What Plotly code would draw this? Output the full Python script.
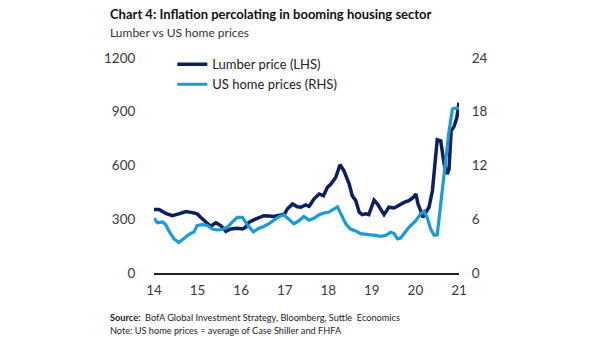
import plotly.graph_objects as go

# Lumber price (USD, left axis) - sampled points, x in decimal years (14 = 2014)
lumber_x = [14.00, 14.115, 14.27, 14.42, 14.57, 14.73, 14.88, 14.99, 15.07, 15.19,
            15.30, 15.42, 15.53, 15.65, 15.76, 15.91, 16.03, 16.10, 16.18, 16.30,
            16.41, 16.52, 16.64, 16.75, 16.91, 17.00, 17.06, 17.18, 17.29, 17.37,
            17.48, 17.56, 17.67, 17.79, 17.89, 17.98, 18.06, 18.17, 18.27, 18.36,
            18.48, 18.55, 18.63, 18.71, 18.78, 18.86, 18.93, 18.99, 19.05, 19.13,
            19.20, 19.28, 19.34, 19.39, 19.51, 19.62, 19.74, 19.85, 19.95, 20.01,
            20.06, 20.12, 20.17, 20.24, 20.31, 20.39, 20.44, 20.50, 20.58, 20.66,
            20.73, 20.77, 20.82, 20.89, 20.95, 21.00]
lumber_y = [354, 354, 333, 320, 330, 343, 337, 330, 311, 283,
            261, 280, 265, 233, 246, 250, 246, 255, 283, 298,
            311, 320, 318, 316, 324, 330, 357, 385, 370, 367,
            380, 372, 413, 441, 431, 478, 496, 533, 604, 570,
            496, 431, 404, 339, 326, 330, 326, 367, 407, 385,
            357, 326, 348, 367, 363, 380, 394, 404, 422, 441,
            385, 348, 311, 339, 367, 459, 570, 743, 737, 607,
            552, 580, 793, 820, 867, 950]

# US home prices, % yoy (right axis)
home_x = [14.00, 14.08, 14.19, 14.27, 14.34, 14.46, 14.57, 14.69, 14.80, 14.92,
          14.99, 15.11, 15.22, 15.34, 15.45, 15.57, 15.68, 15.80, 15.91, 16.03,
          16.14, 16.28, 16.41, 16.52, 16.64, 16.75, 16.87, 16.98, 17.10, 17.21,
          17.33, 17.44, 17.56, 17.67, 17.79, 17.90, 18.02, 18.13, 18.21, 18.29,
          18.40, 18.51, 18.63, 18.74, 18.86, 18.97, 19.09, 19.20, 19.32, 19.43,
          19.51, 19.59, 19.66, 19.74, 19.85, 20.01, 20.12, 20.20, 20.27, 20.35,
          20.43, 20.50, 20.58, 20.66, 20.77, 20.85, 20.92, 21.00]
home_y = [6.1, 5.6, 5.7, 5.4, 4.7, 3.8, 3.4, 3.9, 4.3, 4.6,
          5.3, 5.4, 5.3, 4.9, 4.8, 4.85, 5.1, 5.7, 6.2, 6.2,
          5.4, 4.6, 5.0, 5.2, 5.5, 5.9, 6.3, 6.5, 6.0, 5.5,
          5.85, 6.3, 5.9, 6.1, 6.5, 6.7, 6.8, 7.1, 7.4, 6.6,
          5.5, 4.9, 4.7, 4.4, 4.3, 4.25, 4.2, 4.1, 4.2, 4.55,
          4.4, 3.8, 3.9, 4.4, 5.1, 5.85, 6.6, 6.9, 6.2, 4.9,
          4.2, 4.25, 7.7, 11.0, 15.8, 18.3, 18.4, 18.4]

year_ticks = [14, 15, 16, 17, 18, 19, 20, 21]
year_labels = ["14", "15", "16", "17", "18", "19", "20", "21"]
lhs_ticks = [0, 300, 600, 900, 1200]
rhs_ticks = [0, 6, 12, 18, 24]

NAVY = "#0c1f63"
LIGHT = "#1a9bd9"
FONT = "Lato, sans-serif"
TICK = dict(family=FONT, size=13.5, color="#3a3a3a")

fig = go.Figure()
fig.add_trace(go.Scatter(x=lumber_x, y=lumber_y, mode="lines", name="Lumber price (LHS)",
                         line=dict(color=NAVY, width=3.5)))
fig.add_trace(go.Scatter(x=home_x, y=home_y, mode="lines", name="US home prices (RHS)",
                         yaxis="y2", line=dict(color=LIGHT, width=3.2)))

fig.update_layout(
    width=605, height=341,
    margin=dict(l=154, r=146, t=58, b=68),
    paper_bgcolor="white", plot_bgcolor="white",
    font=dict(family=FONT, size=14, color="#3a3a3a"),
    showlegend=True,
    legend=dict(x=0.06, y=1.04, xanchor="left", yanchor="top",
                bgcolor="rgba(0,0,0,0)", itemwidth=30, tracegroupgap=0,
                font=dict(family=FONT, size=13, color="#222222")),
    xaxis=dict(range=[14, 21], tickvals=year_ticks, ticktext=year_labels,
               showgrid=False, zeroline=False, showline=True, linecolor="#222222",
               linewidth=2, ticks="outside", ticklen=4, tickcolor="rgba(0,0,0,0)",
               tickfont=TICK),
    yaxis=dict(range=[0, 1200], tickvals=lhs_ticks, showgrid=False, zeroline=False,
               showline=False, ticks="outside", ticklen=15, tickcolor="rgba(0,0,0,0)",
               tickfont=TICK),
    yaxis2=dict(range=[0, 24], tickvals=rhs_ticks, overlaying="y", side="right",
                showgrid=False, zeroline=False, showline=False, ticks="outside",
                ticklen=9, tickcolor="rgba(0,0,0,0)", tickfont=TICK),
)

fig.add_annotation(xref="paper", yref="paper", x=-0.151, y=1.0, xanchor="left", yanchor="middle",
                   yshift=44, showarrow=False,
                   text="<b>Chart 4: Inflation percolating in booming housing sector</b>",
                   font=dict(family=FONT, size=13, color="#111111"))
fig.add_annotation(xref="paper", yref="paper", x=-0.151, y=1.0, xanchor="left", yanchor="middle",
                   yshift=26, showarrow=False, text="Lumber vs US home prices",
                   font=dict(family=FONT, size=12, color="#333333"))
fig.add_annotation(xref="paper", yref="paper", x=-0.151, y=0, xanchor="left", yanchor="middle",
                   yshift=-44, showarrow=False,
                   text="<b>Source:</b>  BofA Global Investment Strategy, Bloomberg, Suttle  Economics",
                   font=dict(family=FONT, size=9.2, color="#222222"))
fig.add_annotation(xref="paper", yref="paper", x=-0.151, y=0, xanchor="left", yanchor="middle",
                   yshift=-57, showarrow=False,
                   text="Note: US home prices = average of Case Shiller and FHFA",
                   font=dict(family=FONT, size=9.2, color="#222222"))

fig.write_html("out.html")
